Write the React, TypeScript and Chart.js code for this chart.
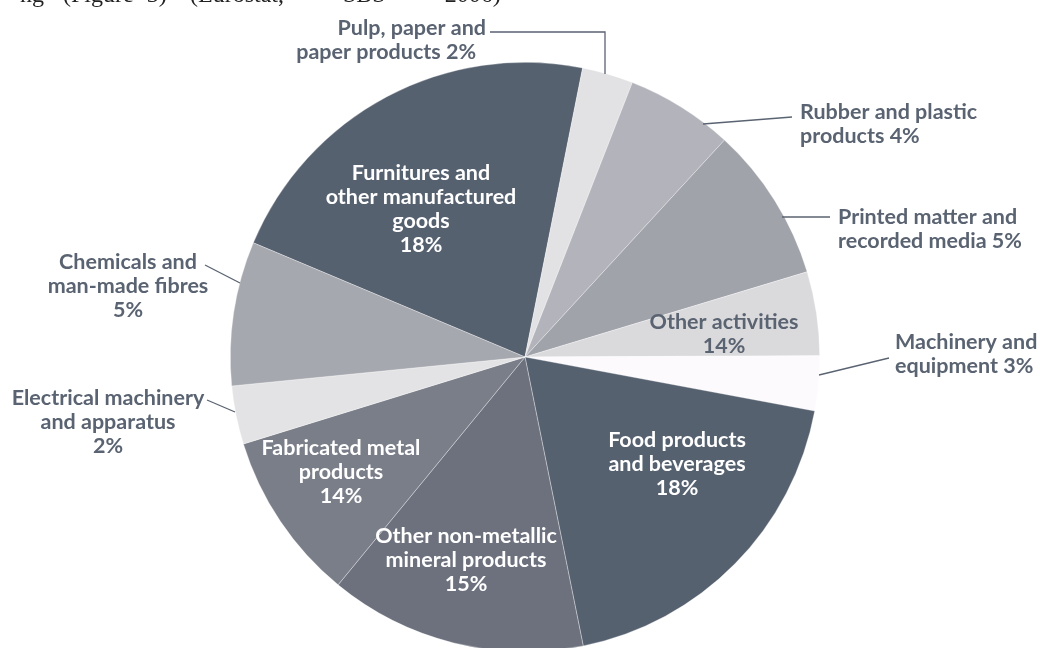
import React, { useEffect, useRef } from "react";
import { Chart, registerables } from "chart.js";

Chart.register(...registerables);

// ---- data ----
const categories = [
  "Furnitures and other manufactured goods",
  "Pulp, paper and paper products",
  "Rubber and plastic products",
  "Printed matter and recorded media",
  "Other activities",
  "Machinery and equipment",
  "Food products and beverages",
  "Other non-metallic mineral products",
  "Fabricated metal products",
  "Electrical machinery and apparatus",
  "Chemicals and man-made fibres",
];
// slice sizes as drawn in the picture (share of the circle, %)
const sliceShares = [21.8, 2.8, 5.9, 8.5, 4.6, 3.0, 18.9, 14.1, 9.3, 3.2, 7.9];
// percentages printed in the labels
const printedPercents = ["18%", "2%", "4%", "5%", "14%", "3%", "18%", "15%", "14%", "2%", "5%"];
const labelLines = [
  ["Furnitures and", "other manufactured", "goods", "{p}"],
  ["Pulp, paper and", "paper products {p}"],
  ["Rubber and plastic", "products {p}"],
  ["Printed matter and", "recorded media {p}"],
  ["Other activities", "{p}"],
  ["Machinery and", "equipment {p}"],
  ["Food products", "and beverages", "{p}"],
  ["Other non-metallic", "mineral products", "{p}"],
  ["Fabricated metal", "products", "{p}"],
  ["Electrical machinery", "and apparatus", "{p}"],
  ["Chemicals and", "man-made fibres", "{p}"],
];
// fragment of the preceding paragraph, cut off by the top edge
const topTextParts = ["ng", "(Figure 3)", "(Eurostat, SBS 2006)"];

// ---- styles / layout ----
const sliceColors = [
  "#566170",
  "#e2e2e4",
  "#b3b4bb",
  "#a1a3ab",
  "#dadadd",
  "#fcfafd",
  "#566170",
  "#6c717d",
  "#7a7e89",
  "#e3e3e5",
  "#a6a8af",
];
const GRAY = "#5a6371";
const WHITE = "#ffffff";
const labelLayout: { x: number; y: number; align: CanvasTextAlign; color: string; dx?: number[] }[] = [
  { x: 421, y: 180, align: "center", color: WHITE },
  { x: 486, y: 35, align: "right", color: GRAY, dx: [0, -10] },
  { x: 800, y: 119, align: "left", color: GRAY },
  { x: 838, y: 224, align: "left", color: GRAY },
  { x: 724, y: 329, align: "center", color: GRAY },
  { x: 895, y: 349, align: "left", color: GRAY },
  { x: 677, y: 447, align: "center", color: WHITE },
  { x: 466, y: 543, align: "center", color: WHITE },
  { x: 341, y: 455, align: "center", color: WHITE },
  { x: 108, y: 405, align: "center", color: GRAY },
  { x: 128, y: 269, align: "center", color: GRAY },
];
const leaderLines: number[][][] = [
  [[490, 32], [605, 32], [605, 74]],
  [[703, 124], [792, 117]],
  [[782, 217], [830, 217]],
  [[819, 375], [889, 358]],
  [[207, 400], [235, 412]],
  [[205, 265], [240, 283]],
];
const topTextLayout = [
  { x: 20, spacing: 0 },
  { x: 63, spacing: 7 },
  { x: 190, spacing: 53 },
];
const LINE_H = 24;
const FONT = "bold 21.5px Lato";

const labelPlugin = {
  id: "pieLabels",
  afterDatasetsDraw(chart: any) {
    const ctx: CanvasRenderingContext2D = chart.ctx;
    ctx.save();
    // cut-off paragraph text at the top
    ctx.font = "24px 'Liberation Serif'";
    ctx.fillStyle = "#222";
    ctx.textAlign = "left";
    ctx.textBaseline = "alphabetic";
    topTextParts.forEach((part, i) => {
      const lay = topTextLayout[i];
      (ctx as any).wordSpacing = lay.spacing + "px";
      ctx.fillText(part, lay.x, 1.5);
    });
    (ctx as any).wordSpacing = "0px";

    ctx.strokeStyle = GRAY;
    ctx.lineWidth = 1.3;
    leaderLines.forEach((pts) => {
      ctx.beginPath();
      pts.forEach(([x, y], i) => (i === 0 ? ctx.moveTo(x, y) : ctx.lineTo(x, y)));
      ctx.stroke();
    });
    ctx.font = FONT;
    labelLines.forEach((lines, i) => {
      const lay = labelLayout[i];
      ctx.fillStyle = lay.color;
      ctx.textAlign = lay.align;
      lines.forEach((ln, j) => {
        const t = ln.replace("{p}", printedPercents[i]);
        const dx = lay.dx ? lay.dx[j] || 0 : 0;
        ctx.fillText(t, lay.x + dx, lay.y + j * LINE_H);
      });
    });
    ctx.restore();
  },
};

export default function App() {
  const ref = useRef<HTMLCanvasElement>(null);
  useEffect(() => {
    if (!ref.current) return;
    const chart = new Chart(ref.current, {
      type: "pie",
      data: {
        labels: categories,
        datasets: [
          {
            data: sliceShares,
            backgroundColor: sliceColors,
            borderColor: "rgba(255,255,255,0.55)",
            borderWidth: 0.6,
          },
        ],
      },
      options: {
        responsive: false,
        animation: false,
        rotation: -67.2,
        layout: { padding: { left: 230, right: 220, top: 62, bottom: 8 } },
        plugins: { legend: { display: false }, tooltip: { enabled: false } },
      },
      plugins: [labelPlugin],
    } as any);
    return () => chart.destroy();
  }, []);

  return (
    <div
      style={{
        position: "fixed",
        left: 0,
        top: 0,
        width: 1040,
        height: 648,
        overflow: "hidden",
        background: "#fff",
      }}
    >
      <canvas ref={ref} width={1040} height={660} style={{ display: "block" }} />
    </div>
  );
}
